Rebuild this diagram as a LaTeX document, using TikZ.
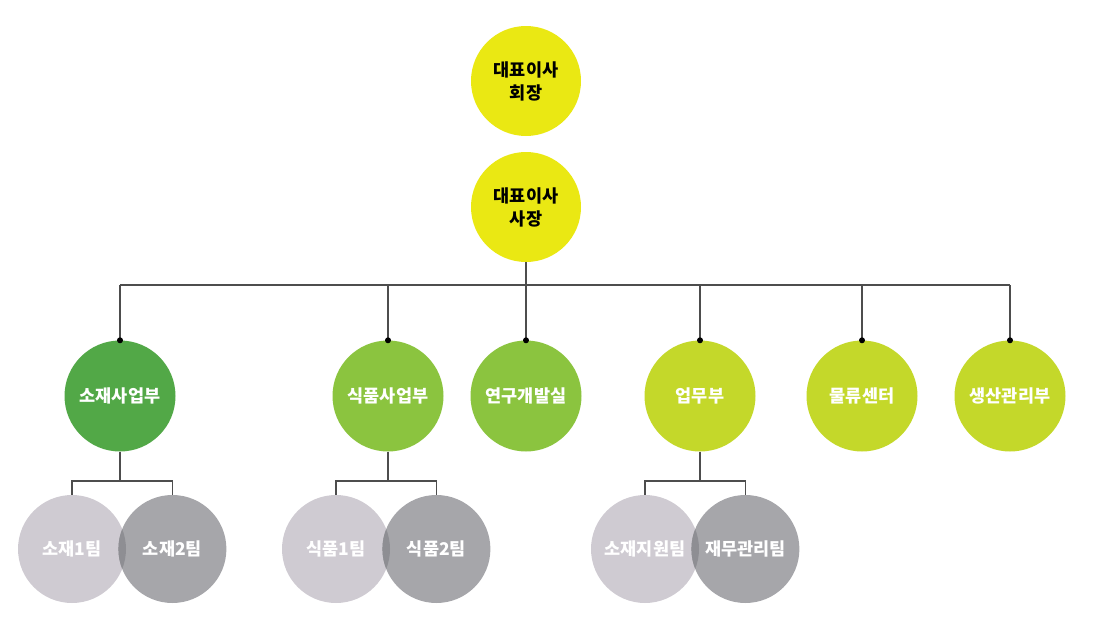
\documentclass[tikz,border=0pt]{standalone}
\usepackage{fontspec}
\setmainfont{Noto Sans CJK KR}
\usetikzlibrary{positioning}
\definecolor{ceoYellow}{HTML}{EAE813}
\definecolor{deptDark}{HTML}{52A847}
\definecolor{deptMid}{HTML}{8BC43F}
\definecolor{deptLight}{HTML}{C4D82A}
\definecolor{teamLight}{HTML}{CFCBD2}
\definecolor{teamDark}{HTML}{A6A6AA}
\definecolor{teamLens}{HTML}{8E8E93}
\definecolor{lineGray}{HTML}{4D4D4D}

\begin{document}
\begin{tikzpicture}[x=1pt, y=-1pt,
  every node/.style={circle, inner sep=0pt, align=center, text=white,
    font=\bfseries\fontsize{17.5}{23}\selectfont},
  ceo/.style={minimum size=110pt, fill=ceoYellow, text=black},
  dept/.style={minimum size=111pt, fill=#1},
  team/.style={minimum size=108pt, fill=#1},
  line/.style={draw=lineGray, line width=1.2pt}]
\useasboundingbox (0,0) rectangle (1093,629);

% 대표이사
\node[ceo] (chairman) at (526,81) {대표이사\\회장};
\node[ceo] (president) at (526,207) {대표이사\\사장};

% 사업부
\node[dept=deptDark]  (sojae)    at (120,396)  {소재사업부};
\node[dept=deptMid]   (sikpum)   at (388,396)  {식품사업부};
\node[dept=deptMid]   (yeongu)   at (526,396)  {연구개발실};
\node[dept=deptLight] (eopmu)    at (700,396)  {업무부};
\node[dept=deptLight] (mulryu)   at (862,396)  {물류센터};
\node[dept=deptLight] (saengsan) at (1010,396) {생산관리부};

% 팀
\node[team=teamLight] (sojaeA) at (72,549) {소재1팀};
\node[team=teamDark, right=-8pt of sojaeA] (sojaeB) {소재2팀};
\node[team=teamLight] (sikpumA) at (336,549) {식품1팀};
\node[team=teamDark, right=-8pt of sikpumA] (sikpumB) {식품2팀};
\node[team=teamLight] (eopmuA) at (645,549) {소재지원팀};
\node[team=teamDark, right=-8pt of eopmuA] (eopmuB) {재무관리팀};

% 겹친 부분
\foreach \a/\b in {sojaeA/sojaeB, sikpumA/sikpumB, eopmuA/eopmuB} {
  \begin{scope}
    \clip (\a.center) circle (54);
    \fill[teamLens] (\b.center) circle (54);
  \end{scope}
}

% 연결선
\coordinate (busY) at (0,285);
\coordinate (teamY) at (0,481);
\draw[line] (president.south) -- (yeongu.north);
\draw[line] (sojae.north |- busY) -- (saengsan.north |- busY);
\foreach \d in {sojae, sikpum, eopmu, mulryu, saengsan}
  \draw[line] (\d.north |- busY) -- (\d.north);
\foreach \d in {sojae, sikpum, yeongu, eopmu, mulryu, saengsan}
  \fill (\d.north) circle (3);

\foreach \p/\a/\b in {sojae/sojaeA/sojaeB, sikpum/sikpumA/sikpumB, eopmu/eopmuA/eopmuB} {
  \draw[line] (\p.south) -- (\p.south |- teamY);
  \draw[line] (\a.north) -- (\a.north |- teamY) -- (\b.north |- teamY) -- (\b.north);
}

\end{tikzpicture}
\end{document}
